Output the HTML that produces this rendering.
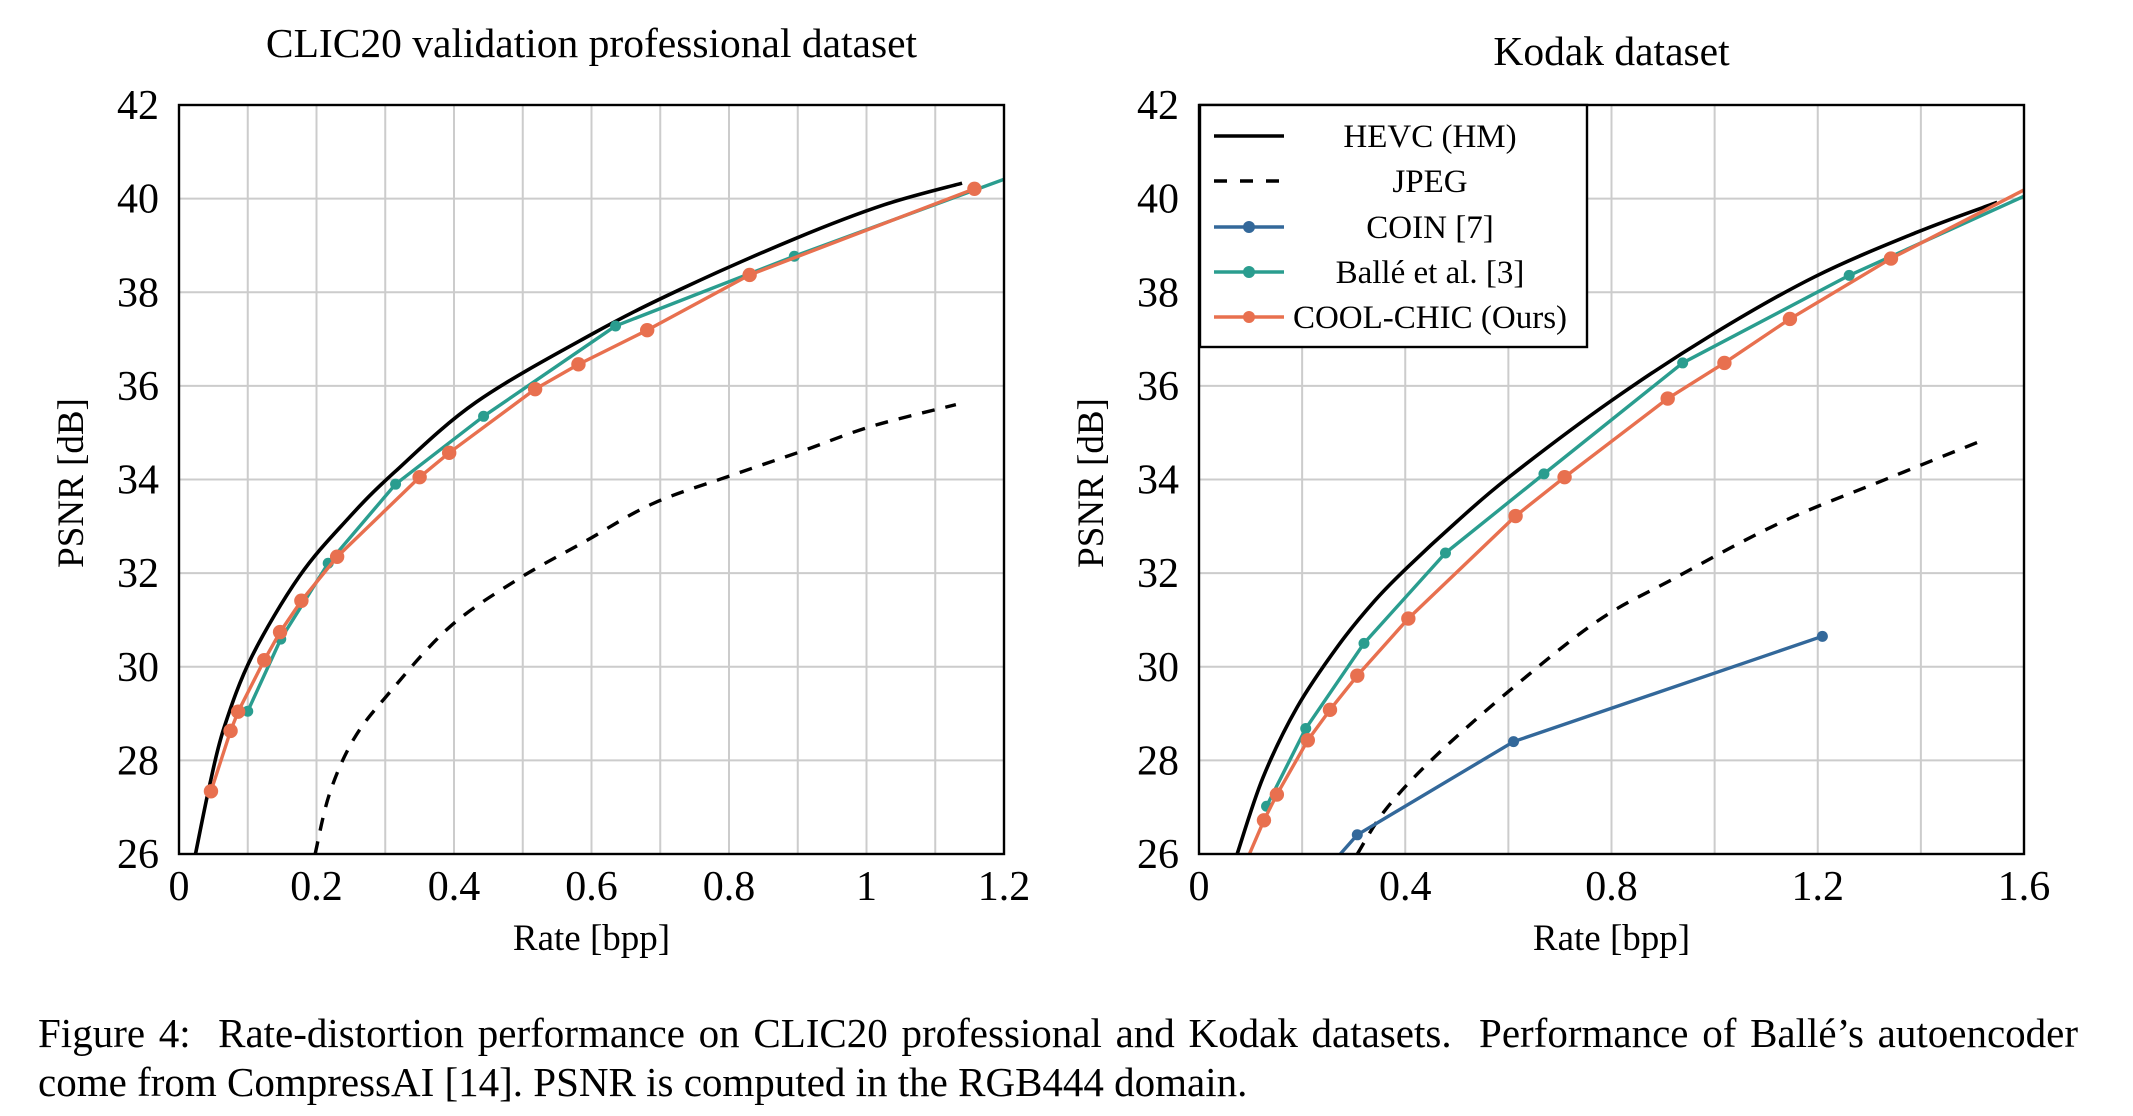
<!DOCTYPE html>
<html><head><meta charset="utf-8"><style>
html,body{margin:0;padding:0;background:#fff;}
body{width:2133px;height:1116px;overflow:hidden;position:relative;font-family:"Liberation Serif",serif;}
svg text{font-family:"Liberation Serif",serif;fill:#000;}
#caption{position:absolute;left:38px;top:1009px;width:2040px;font-size:41px;line-height:49px;text-align:justify;text-align-last:left;}
</style></head><body>
<svg id="chart" width="2133" height="1010" xmlns="http://www.w3.org/2000/svg"></svg>
<div id="caption">Figure 4: &nbsp;Rate-distortion performance on CLIC20 professional and Kodak datasets. &nbsp;Performance of Ballé’s autoencoder come from CompressAI [14]. PSNR is computed in the RGB444 domain.</div>
<script>
// ---- CLIC20 data ----
const clicHevcX=[0.024,0.045,0.066,0.106,0.175,0.245,0.313,0.432,0.600,0.729,0.897,1.026,1.139];
const clicHevcY=[26.0,27.5,28.72,30.22,31.93,33.15,34.15,35.65,37.10,38.06,39.15,39.87,40.33];
const clicJpegX=[0.198,0.219,0.254,0.304,0.393,0.492,0.591,0.690,0.808,0.907,1.006,1.130];
const clicJpegY=[26.0,27.29,28.45,29.41,30.84,31.86,32.68,33.49,34.11,34.61,35.13,35.60];
const clicBalleX=[0.100,0.148,0.217,0.315,0.443,0.635,0.895,1.22];
const clicBalleY=[29.05,30.59,32.21,33.90,35.35,37.28,38.77,40.52];
const clicCoolX=[0.0465,0.075,0.086,0.124,0.147,0.178,0.230,0.350,0.393,0.518,0.581,0.681,0.830,1.157];
const clicCoolY=[27.34,28.63,29.04,30.14,30.74,31.41,32.35,34.05,34.57,35.93,36.46,37.19,38.37,40.21];
// ---- Kodak data ----
const kodHevcX=[0.074,0.124,0.190,0.270,0.340,0.402,0.500,0.600,0.798,0.996,1.194,1.392,1.548];
const kodHevcY=[26.0,27.63,29.13,30.45,31.40,32.10,33.10,34.04,35.67,37.10,38.33,39.28,39.92];
const kodJpegX=[0.307,0.362,0.454,0.600,0.772,0.917,1.128,1.340,1.525];
const kodJpegY=[26.0,26.95,28.04,29.47,30.97,31.86,33.08,34.04,34.86];
const kodCoinX=[0.250,0.307,0.610,1.209];
const kodCoinY=[25.7,26.41,28.40,30.65];
const kodBalleX=[0.131,0.207,0.320,0.478,0.669,0.938,1.261,1.62];
const kodBalleY=[27.02,28.68,30.50,32.43,34.12,36.49,38.36,40.15];
const kodCoolX=[0.09,0.126,0.151,0.211,0.254,0.307,0.406,0.614,0.709,0.909,1.019,1.146,1.342,1.62];
const kodCoolY=[25.8,26.72,27.27,28.43,29.08,29.81,31.03,33.22,34.05,35.73,36.49,37.43,38.72,40.3];
const clicXTicks=[0,0.2,0.4,0.6,0.8,1,1.2];
const kodXTicks=[0,0.4,0.8,1.2,1.6];
const yTicks=[26,28,30,32,34,36,38,40,42];

const NS="http://www.w3.org/2000/svg";
const svg=document.getElementById('chart');
function mk(tag,attrs,parent){const e=document.createElementNS(NS,tag);for(const k in attrs)e.setAttribute(k,attrs[k]);(parent||svg).appendChild(e);return e;}
const TOP=105,BOT=854,W=825;
const ORANGE="#e8704f",TEAL="#2a9d8f",BLUE="#33689a";

function smoothPath(P){
  let d='M'+P[0][0]+','+P[0][1];
  for(let i=0;i<P.length-1;i++){
    const p0=P[Math.max(0,i-1)],p1=P[i],p2=P[i+1],p3=P[Math.min(P.length-1,i+2)];
    const c1=[p1[0]+(p2[0]-p0[0])/6,p1[1]+(p2[1]-p0[1])/6];
    const c2=[p2[0]-(p3[0]-p1[0])/6,p2[1]-(p3[1]-p1[1])/6];
    d+=' C'+c1[0]+','+c1[1]+' '+c2[0]+','+c2[1]+' '+p2[0]+','+p2[1];
  }
  return d;
}

function panel(id,left,xmax,gridStep,xTicks,title,titleY,series,legend){
  const g=mk('g',{});
  
  
  const sx=v=>left+v/xmax*W, sy=v=>BOT-(v-26)/16*(BOT-TOP);
  const cp=mk('clipPath',{id:id+'-clip'},g);
  mk('rect',{x:left,y:TOP,width:W,height:BOT-TOP},cp);
  for(let v=gridStep;v<xmax-1e-9;v+=gridStep){const l=mk('line',{x1:sx(v),x2:sx(v),y1:TOP,y2:BOT,stroke:'#cccccc','stroke-width':2},g);}
  yTicks.forEach(v=>{if(v>26&&v<42){const l=mk('line',{x1:left,x2:left+W,y1:sy(v),y2:sy(v),stroke:'#cccccc','stroke-width':2},g);}});
  const sg=mk('g',{'clip-path':'url(#'+id+'-clip)'},g);
  series.forEach(s=>{
    const P=s.x.map((v,i)=>[sx(v),sy(s.y[i])]);
    let pl;
    if(s.smooth){
      pl=mk('path',{d:smoothPath(P),fill:'none',stroke:s.c,'stroke-width':s.w||3.4,'stroke-dasharray':s.dash||'none'},sg);
    } else {
      pl=mk('polyline',{points:P.map(p=>p.join(',')).join(' '),fill:'none',stroke:s.c,'stroke-width':s.w||3.4,'stroke-linejoin':'round'},sg);
    }
    
    
    if(s.r){P.forEach(p=>{const c=mk('circle',{cx:p[0],cy:p[1],r:s.r,fill:s.c},sg);});}
  });
  const fr=mk('rect',{x:left,y:TOP,width:W,height:BOT-TOP,fill:'none',stroke:'#000','stroke-width':2.4},g);
  
  yTicks.forEach(v=>{const t=mk('text',{x:left-20,y:sy(v)+14,'font-size':42,'text-anchor':'end'},g);t.textContent=v;});
  xTicks.forEach(v=>{const t=mk('text',{x:sx(v),y:900,'font-size':42,'text-anchor':'middle'},g);t.textContent=v;});
  const tt=mk('text',{x:left+W/2,y:titleY,'font-size':41.5,'text-anchor':'middle'},g);tt.textContent=title;
  const xl=mk('text',{x:left+W/2,y:950,'font-size':37,'text-anchor':'middle'},g);xl.textContent='Rate [bpp]';
  const yl=mk('text',{x:0,y:0,'font-size':37,'text-anchor':'middle',transform:'translate('+(left-96)+',483) rotate(-90)'},g);yl.textContent='PSNR [dB]';
  if(legend){
    const lg=mk('g',{},g);
    mk('rect',{x:1200,y:105,width:387,height:242,fill:'#fff',stroke:'#000','stroke-width':2.4},lg);
    const ys=[136,181,227,272,317];
    legend.forEach((e,i)=>{
      const le=mk('g',{},lg);
      mk('line',{x1:1214,x2:1284,y1:ys[i],y2:ys[i],stroke:e.c,'stroke-width':3.4,'stroke-dasharray':e.dash||'none'},le);
      if(e.m) mk('circle',{cx:1249,cy:ys[i],r:6,fill:e.c},le);
      const t=mk('text',{x:1430,y:ys[i]+11,'font-size':33,'text-anchor':'middle'},le);t.textContent=e.t;
    });
  }
}
panel('clic',179,1.2,0.1,clicXTicks,'CLIC20 validation professional dataset',57,[
  {name:'jpeg',x:clicJpegX,y:clicJpegY,c:'#000',dash:'13 11',smooth:1},
  {name:'hevc',x:clicHevcX,y:clicHevcY,c:'#000',w:3.6,smooth:1},
  {name:'balle',x:clicBalleX,y:clicBalleY,c:TEAL,r:5.5},
  {name:'cool-chic',x:clicCoolX,y:clicCoolY,c:ORANGE,r:7.2}
],null);
panel('kodak',1199,1.6,0.2,kodXTicks,'Kodak dataset',65,[
  {name:'jpeg',x:kodJpegX,y:kodJpegY,c:'#000',dash:'13 11',smooth:1},
  {name:'coin',x:kodCoinX,y:kodCoinY,c:BLUE,r:5.5},
  {name:'hevc',x:kodHevcX,y:kodHevcY,c:'#000',w:3.6,smooth:1},
  {name:'balle',x:kodBalleX,y:kodBalleY,c:TEAL,r:5.5},
  {name:'cool-chic',x:kodCoolX,y:kodCoolY,c:ORANGE,r:7.2}
],[
  {t:'HEVC (HM)',c:'#000'},
  {t:'JPEG',c:'#000',dash:'13 13'},
  {t:'COIN [7]',c:BLUE,m:1},
  {t:'Ballé et al. [3]',c:TEAL,m:1},
  {t:'COOL-CHIC (Ours)',c:ORANGE,m:1}
]);
</script>
</body></html>
